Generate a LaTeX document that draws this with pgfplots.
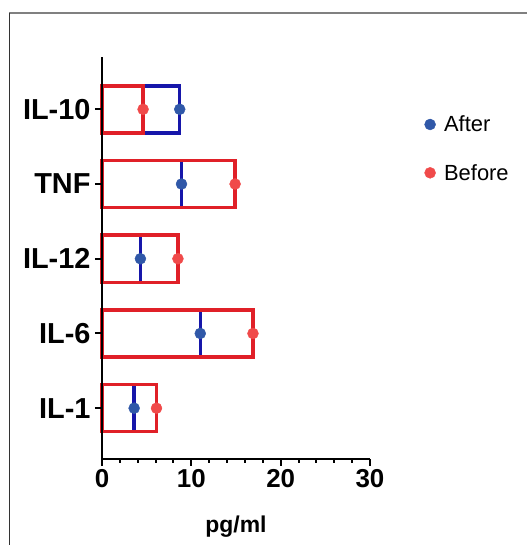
\documentclass[border=0pt]{standalone}
\usepackage{pgfplots}
\pgfplotsset{compat=1.18}
\usepackage{fontspec}
\setmainfont{Liberation Sans}
\definecolor{barred}{RGB}{224,32,40}
\definecolor{barblue}{RGB}{22,22,170}
\definecolor{dotred}{RGB}{240,74,74}
\definecolor{dotblue}{RGB}{48,88,168}
\pgfplotsset{
  dotlegend/.style={legend image code/.code={%
    \path[draw=none] (0bp,0bp) -- (18bp,0bp);
    \draw[##1, only marks] plot coordinates {(6bp,0bp)};}},
}
\begin{document}
\begin{tikzpicture}
\useasboundingbox (0bp,0bp) rectangle (528bp,545bp);
% frame of the original figure (top and left edges only)
\draw[gray, line width=2bp] (9bp,532bp) -- (527bp,532bp);
\draw[black!80, line width=1bp] (9bp,0bp) -- (9bp,532bp);
\begin{axis}[
  at={(102bp,86bp)}, anchor=south west, scale only axis,
  width=268bp, height=402bp,
  xmin=0, xmax=30, ymin=0.32, ymax=5.7,
  axis x line=bottom, axis y line=left,
  axis line style={-, line width=2bp, black},
  axis on top,
  xtick={0,10,20,30}, minor x tick num=4,
  ytick={1,2,3,4,5},
  yticklabels={IL-1,IL-6,IL-12,TNF,IL-10},
  tick align=outside,
  major tick length=7bp, minor tick length=4bp,
  every tick/.style={line width=2bp, black},
  /pgf/number format/assume math mode=true,
  yticklabel style={font=\bfseries\fontsize{29}{29}\selectfont, xshift=-1bp},
  xticklabel style={font=\bfseries\fontsize{26}{26}\selectfont},
  xlabel={pg/ml},
  xlabel style={font=\bfseries\fontsize{23}{23}\selectfont,
    at={(axis description cs:0.5,-0.169)}, anchor=center},
  clip=false,
  legend style={at={(rel axis cs:1.19,0.772)}, anchor=west, draw=none,
    fill=none, font=\fontsize{22}{22}\selectfont, row sep=27bp},
  legend cell align=left,
]
\addplot[xbar, bar width=0.63, bar shift=0pt, draw=barblue, fill=none,
  line width=3.5bp, forget plot]
  coordinates {(3.6,1)(11.0,2)(4.3,3)(8.9,4)(8.7,5)};
\addplot[xbar, bar width=0.63, bar shift=0pt, draw=barred, fill=none,
  line width=3.5bp, forget plot]
  coordinates {(6.1,1)(16.9,2)(8.5,3)(14.9,4)(4.6,5)};
\addplot[only marks, mark=*, mark size=5.5bp, dotblue, dotlegend]
  coordinates {(3.6,1)(11.0,2)(4.3,3)(8.9,4)(8.7,5)};
\addlegendentry{After}
\addplot[only marks, mark=*, mark size=5.5bp, dotred, dotlegend]
  coordinates {(6.1,1)(16.9,2)(8.5,3)(14.9,4)(4.6,5)};
\addlegendentry{Before}
\end{axis}
\end{tikzpicture}
\end{document}
